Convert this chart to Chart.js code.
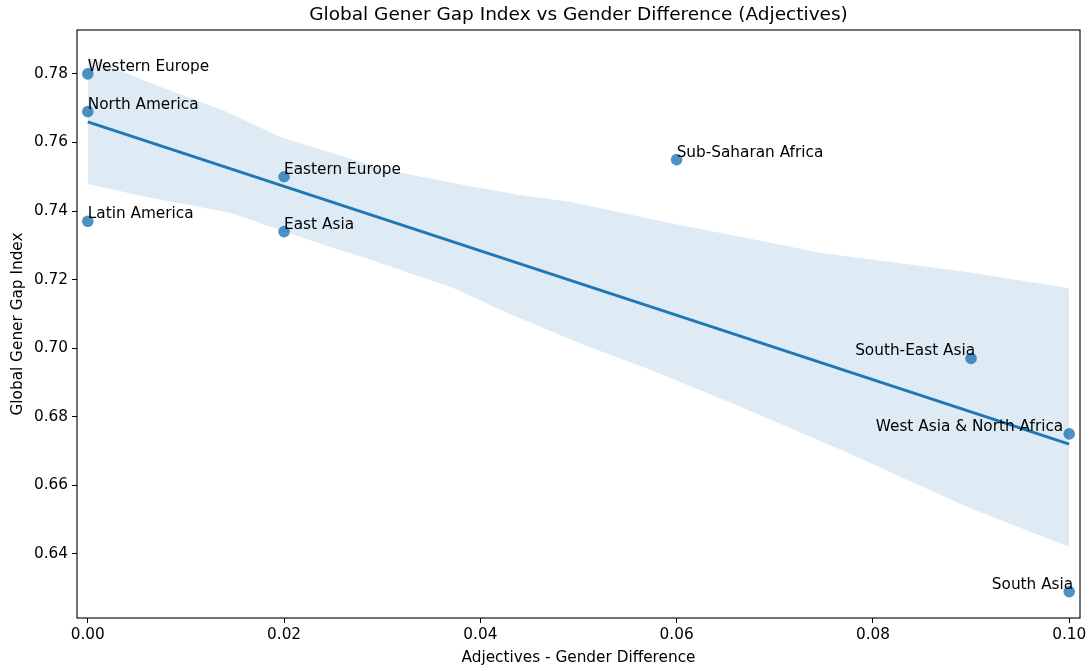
<!DOCTYPE html>
<html>
<head>
<meta charset="utf-8">
<script src="https://cdn.jsdelivr.net/npm/chart.js@4"></script>
<style>
  html, body { margin: 0; padding: 0; background: #fff; }
  #wrap { width: 1092px; height: 671px; position: relative; }
</style>
</head>
<body>
<div id="wrap"><canvas id="chart"></canvas></div>
<script>
// regions and their values
const regions = ["Western Europe", "North America", "Latin America", "Eastern Europe", "East Asia",
  "Sub-Saharan Africa", "South-East Asia", "West Asia & North Africa", "South Asia"];
const adjDiff = [0, 0, 0, 0.02, 0.02, 0.06, 0.09, 0.10, 0.10];
const ggIndex = [0.780, 0.769, 0.737, 0.750, 0.734, 0.755, 0.697, 0.675, 0.629];

// fitted line ends
const fitX = [0, 0.10];
const fitY = [0.766, 0.672];

// confidence band
const upperX = [0, 0.0026, 0.0063, 0.0142, 0.0196, 0.0305, 0.0372, 0.0440, 0.0491, 0.0593, 0.0692, 0.0746, 0.0896, 0.10];
const upperY = [0.785, 0.7818, 0.7774, 0.7689, 0.7616, 0.752, 0.7482, 0.7447, 0.7427, 0.7365, 0.731, 0.7278, 0.7222, 0.7175];
const lowerX = [0, 0.006, 0.0145, 0.0196, 0.0247, 0.028, 0.0372, 0.0427, 0.0505, 0.0573, 0.0665, 0.0774, 0.0896, 0.10];
const lowerY = [0.7479, 0.7441, 0.7395, 0.7345, 0.7295, 0.7266, 0.7176, 0.7103, 0.701, 0.6937, 0.6829, 0.6695, 0.6537, 0.642];

const xTicks = [0, 0.02, 0.04, 0.06, 0.08, 0.10];
const yTicks = [0.64, 0.66, 0.68, 0.70, 0.72, 0.74, 0.76, 0.78];

// label placement (right aligned ones sit left of the dot)
const labelAlign = ["left", "left", "left", "left", "left", "left", "right", "right", "right"];
const labelDx = [0, 0, 0, 0, 0, 0, 4, -6, 4];

const FONT = "'DejaVu Sans', sans-serif";
const blue = "#1f77b4";
const SIZE = 15.3;

const toXY = (xs, ys) => xs.map((x, i) => ({ x: x, y: ys[i] }));

Chart.defaults.font.family = FONT;
Chart.defaults.color = "#000";

const textPlugin = {
  id: "texts",
  afterDatasetsDraw(chart) {
    const ctx = chart.ctx;
    const xs = chart.scales.x, ys = chart.scales.y;
    ctx.save();
    ctx.font = SIZE + "px " + FONT;
    ctx.fillStyle = "#000";
    ctx.textBaseline = "alphabetic";
    regions.forEach((name, i) => {
      ctx.textAlign = labelAlign[i];
      ctx.fillText(name, xs.getPixelForValue(adjDiff[i]) + labelDx[i], ys.getPixelForValue(ggIndex[i]) - 3);
    });
    ctx.restore();
  },
  afterDraw(chart) {
    const ctx = chart.ctx;
    const a = chart.chartArea;
    ctx.save();
    ctx.strokeStyle = "#000";
    ctx.lineWidth = 1.1;
    ctx.strokeRect(a.left, a.top, a.right - a.left, a.bottom - a.top);
    ctx.font = "18.5px " + FONT;
    ctx.fillStyle = "#000";
    ctx.textAlign = "center";
    ctx.textBaseline = "middle";
    ctx.fillText("Global Gener Gap Index vs Gender Difference (Adjectives)", (a.left + a.right) / 2, 15);
    ctx.restore();
  }
};

new Chart(document.getElementById("chart"), {
  type: "line",
  data: {
    datasets: [
      {
        label: "regions",
        data: toXY(adjDiff, ggIndex),
        showLine: false,
        pointRadius: 5.8,
        pointBorderWidth: 0,
        pointBackgroundColor: "rgba(31,119,180,0.8)",
        pointBorderColor: "rgba(31,119,180,0.8)"
      },
      {
        label: "fit",
        data: toXY(fitX, fitY),
        borderColor: blue,
        borderWidth: 3,
        pointRadius: 0,
        fill: false
      },
      {
        label: "upper",
        data: toXY(upperX, upperY),
        borderWidth: 0,
        borderColor: "rgba(0,0,0,0)",
        pointRadius: 0,
        backgroundColor: "rgba(31,119,180,0.15)",
        fill: "+1"
      },
      {
        label: "lower",
        data: toXY(lowerX, lowerY),
        borderWidth: 0,
        borderColor: "rgba(0,0,0,0)",
        pointRadius: 0,
        fill: false
      }
    ]
  },
  options: {
    responsive: true,
    maintainAspectRatio: false,
    animation: false,
    layout: { padding: { left: 0, right: 12, top: 30, bottom: 0 } },
    plugins: {
      legend: { display: false },
      tooltip: { enabled: false }
    },
    scales: {
      x: {
        type: "linear",
        min: -0.0011,
        max: 0.1011,
        afterBuildTicks: s => { s.ticks = xTicks.map(v => ({ value: v })); },
        afterFit: s => { s.height = 53; },
        border: { display: false },
        grid: { drawOnChartArea: false, drawTicks: true, tickLength: 5, color: "#000" },
        ticks: { font: { size: SIZE }, padding: 3, maxRotation: 0, callback: v => v.toFixed(2) },
        title: { display: true, text: "Adjectives - Gender Difference", font: { size: SIZE }, padding: { top: 0, bottom: 4 } }
      },
      y: {
        type: "linear",
        min: 0.6213,
        max: 0.7928,
        afterBuildTicks: s => { s.ticks = yTicks.map(v => ({ value: v })); },
        afterFit: s => { s.width = 77; },
        border: { display: false },
        grid: { drawOnChartArea: false, drawTicks: true, tickLength: 5, color: "#000" },
        ticks: { font: { size: SIZE }, padding: 4, callback: v => v.toFixed(2) },
        title: { display: true, text: "Global Gener Gap Index", font: { size: SIZE }, padding: { top: 9, bottom: 0 } }
      }
    }
  },
  plugins: [textPlugin]
});
</script>
</body>
</html>
